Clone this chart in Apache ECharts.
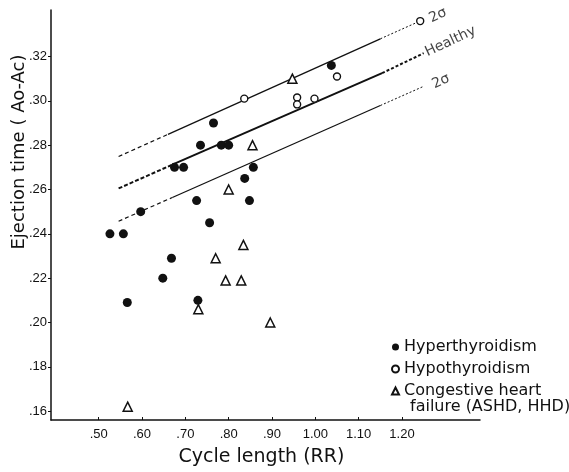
<!DOCTYPE html>
<html>
<head>
<meta charset="utf-8">
<script src="https://cdn.jsdelivr.net/npm/echarts@6/dist/echarts.min.js"></script>
<style>html,body{margin:0;padding:0;background:#fff}#c{width:569px;height:472px}</style>
</head>
<body>
<div id="c"></div>
<script>
// ---- data ----
const hyperX = [0.526,0.557,0.566,0.597,0.648,0.668,0.675,0.696,0.726,0.729,0.735,0.756,0.765,0.783,0.800,0.837,0.848,0.857,1.037];
const hyperY = [0.240,0.240,0.209,0.250,0.220,0.229,0.270,0.270,0.255,0.210,0.280,0.245,0.290,0.280,0.280,0.265,0.255,0.270,0.316];
const hypoX = [0.836,0.958,0.958,0.998,1.050,1.242];
const hypoY = [0.301,0.3015,0.2984,0.301,0.311,0.336];
const chfX = [0.567,0.730,0.770,0.793,0.800,0.829,0.834,0.855,0.896,0.947];
const chfY = [0.162,0.206,0.229,0.219,0.260,0.219,0.235,0.280,0.200,0.310];

// regression line and ±2σ lines: [dashed start, solid start, solid end, dotted end]
const upperX = [0.546,0.66,1.15,1.23];
const upperY = [0.2749,0.2849,0.3280,0.3350];
const healthyX = [0.546,0.67,1.154,1.25];
const healthyY = [0.2605,0.2712,0.3125,0.3215];
const lowerX = [0.546,0.67,1.15,1.247];
const lowerY = [0.2457,0.2564,0.2979,0.3063];

const lineLabelText = ['2σ','Healthy','2σ'];
const lineLabelX = [1.283,1.312,1.29];
const lineLabelY = [0.3385,0.3268,0.3088];

const xTickValues = [0.5,0.6,0.7,0.8,0.9,1.0,1.1,1.2];
const xTickLabels = ['.50','.60','.70','.80','.90','1.00','1.10','1.20'];
const yTickValues = [0.16,0.18,0.20,0.22,0.24,0.26,0.28,0.30,0.32];
const yTickLabels = ['.16','.18','.20','.22','.24','.26','.28','.30','.32'];

const seriesNames = ['Hyperthyroidism','Hypothyroidism','Congestive heart'];
const legendExtra = 'failure (ASHD, HHD)';
const xTitle = 'Cycle length (RR)';
const yTitle = 'Ejection time ( Ao-Ac)';

// ---- build ----
const zip = (xs, ys) => xs.map((x, i) => [x, ys[i]]);
const FONT = 'DejaVu Sans';
const TICKFONT = 'Liberation Sans Narrow, Liberation Sans, Arial';

function lineSeries(xs, ys, bold) {
  const pts = zip(xs, ys);
  const w = bold ? 2 : 1.2;
  const parts = [
    {data: pts.slice(0, 2), type: bold ? [4, 2] : [4, 3], width: w},
    {data: pts.slice(1, 3), type: 'solid', width: bold ? 2 : 1.3},
    {data: pts.slice(2, 4), type: bold ? [3, 2] : [2, 2], width: bold ? 2 : 1}
  ];
  return parts.map(p => ({
    type: 'line', data: p.data, symbol: 'none', silent: true, z: 1,
    lineStyle: {color: '#111', width: p.width, type: p.type}
  }));
}

const labelIdx = lineLabelText.map((t, i) => ({
  value: [lineLabelX[i], lineLabelY[i]],
  label: {formatter: t}
}));

const option = {
  animation: false,
  backgroundColor: '#fff',
  grid: {left: 51, right: 89, top: 10, bottom: 44},
  xAxis: {
    type: 'value', min: 0.39, max: 1.38,
    name: xTitle, nameLocation: 'middle', nameGap: 28,
    nameTextStyle: {fontFamily: FONT, fontSize: 19, color: '#111', padding: [0, 0, 0, -8]},
    axisLine: {show: true, onZero: false, lineStyle: {color: '#111', width: 1.5}},
    axisTick: {show: true, inside: true, length: 3, customValues: xTickValues, lineStyle: {color: '#111'}},
    axisLabel: {customValues: xTickValues, margin: 8, fontFamily: TICKFONT, fontSize: 13, color: '#111',
      formatter: v => { const i = xTickValues.findIndex(t => Math.abs(t - v) < 1e-6); return i >= 0 ? xTickLabels[i] : ''; }},
    splitLine: {show: false}
  },
  yAxis: {
    type: 'value', min: 0.156, max: 0.341,
    axisLine: {show: true, onZero: false, lineStyle: {color: '#111', width: 1.5}},
    axisTick: {show: true, length: 3, customValues: yTickValues, lineStyle: {color: '#111'}},
    axisLabel: {customValues: yTickValues, margin: 4, fontFamily: TICKFONT, fontSize: 13, color: '#111',
      formatter: v => { const i = yTickValues.findIndex(t => Math.abs(t - v) < 1e-6); return i >= 0 ? yTickLabels[i] : ''; }},
    splitLine: {show: false}
  },
  legend: {
    orient: 'vertical', left: 386, top: 334, itemGap: 6, itemWidth: 7, itemHeight: 7,
    data: seriesNames,
    textStyle: {fontFamily: FONT, fontSize: 16, color: '#111'}
  },
  graphic: [
    {
      type: 'text', left: 410, top: 399,
      style: {text: legendExtra, font: '16px "DejaVu Sans"', fill: '#111'}
    },
    {
      type: 'text', x: 19, y: 152, rotation: Math.PI / 2,
      style: {text: yTitle, font: '18px "DejaVu Sans"', fill: '#111', align: 'center', verticalAlign: 'middle'}
    }
  ],
  series: [
    ...lineSeries(upperX, upperY, false),
    ...lineSeries(healthyX, healthyY, true),
    ...lineSeries(lowerX, lowerY, false),
    {
      name: seriesNames[0], type: 'scatter', data: zip(hyperX, hyperY), symbol: 'circle', symbolSize: 9, z: 3,
      itemStyle: {color: '#111', opacity: 1}
    },
    {
      name: seriesNames[1], type: 'scatter', data: zip(hypoX, hypoY), symbol: 'circle', symbolSize: 7, z: 3,
      itemStyle: {color: '#fff', borderColor: '#111', borderWidth: 1.4, opacity: 1}
    },
    {
      name: seriesNames[2], type: 'scatter', data: zip(chfX, chfY), symbol: 'triangle', symbolSize: 9, z: 3,
      itemStyle: {color: '#fff', borderColor: '#111', borderWidth: 1.5, opacity: 1}
    },
    {
      type: 'scatter', data: labelIdx, symbolSize: 0, silent: true, z: 4,
      label: {show: true, position: 'inside', rotate: 25, fontFamily: FONT, fontSize: 14, color: '#111'}
    }
  ]
};

const chart = echarts.init(document.getElementById('c'), null, {renderer: 'canvas'});
chart.setOption(option);
</script>
</body>
</html>
